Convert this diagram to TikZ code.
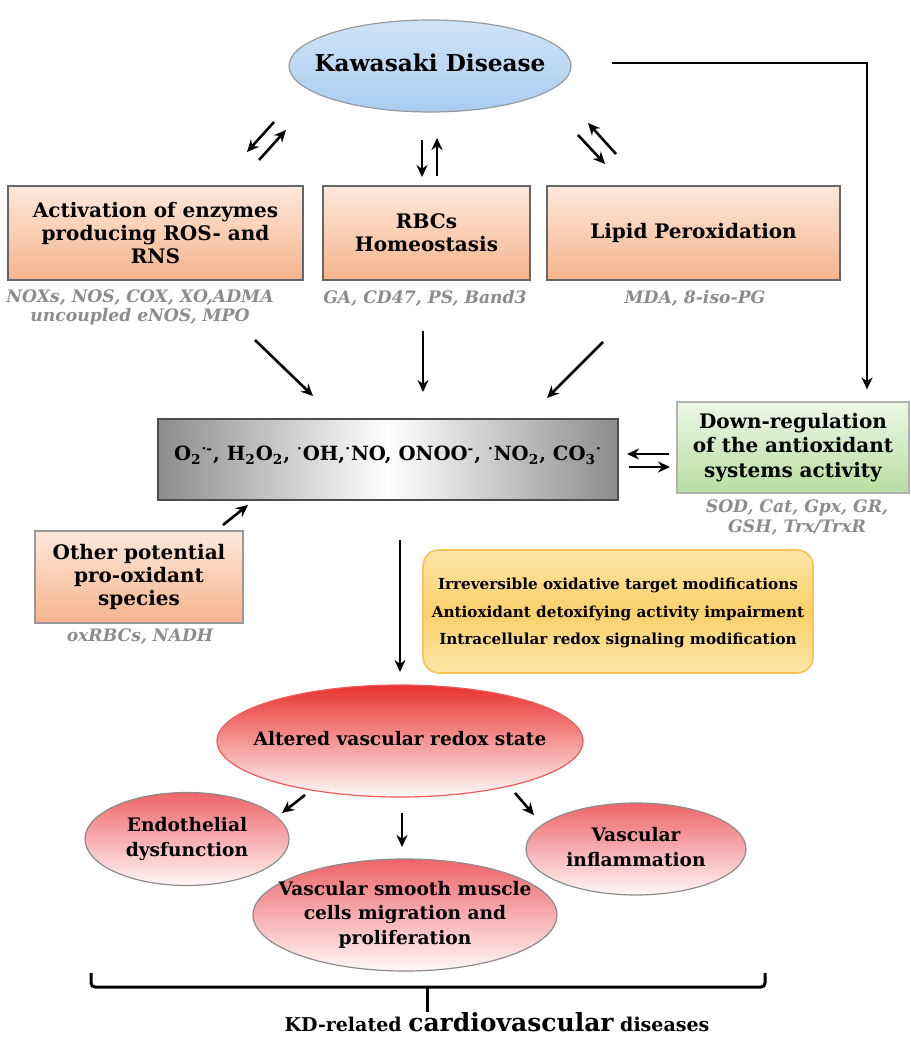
\documentclass[tikz,border=0pt]{standalone}
\usepackage{fontspec}
\setmainfont{DejaVu Serif}
\usetikzlibrary{shapes.geometric,arrows.meta}
\definecolor{kdblue}{HTML}{A9CDF0}
\definecolor{kdblueTop}{HTML}{CFE3F7}
\definecolor{peachTop}{HTML}{FDE8DB}
\definecolor{peachBot}{HTML}{F5B48C}
\definecolor{greenTop}{HTML}{EDF7E6}
\definecolor{greenBot}{HTML}{B7DEA0}
\definecolor{yelMid}{HTML}{FBD06A}
\definecolor{yelEdge}{HTML}{FDE6A8}
\definecolor{redTop}{HTML}{E8322E}
\definecolor{redSoft}{HTML}{EE6468}
\definecolor{subgray}{HTML}{8C8C8C}
% text of zero width, so the oval keeps its own size
\newcommand{\ovaltext}[1]{\makebox[0pt]{\begin{tabular}{@{}c@{}}#1\end{tabular}}}

\begin{document}
\begin{tikzpicture}[x=0.5pt,y=-0.5pt,
    font=\bfseries,
    arr/.style={line width=1.3pt,-{Stealth[length=6pt,width=5.5pt]}},
    peachbox/.style={draw=black!60,line width=0.6pt,top color=peachTop,bottom color=peachBot,
        align=center,inner sep=2pt,font=\bfseries\fontsize{10}{11.6}\selectfont},
    subtxt/.style={text=subgray,font=\bfseries\itshape\fontsize{8.6}{9.5}\selectfont},
    redoval/.style={ellipse,draw=black!45,line width=0.6pt,top color=redSoft,bottom color=red!3,
        inner sep=0pt,font=\bfseries\fontsize{9.3}{12.2}\selectfont}]
\useasboundingbox (0,0) rectangle (910,1037);

% top
\node[ellipse,draw=black!40,line width=0.6pt,top color=kdblueTop,bottom color=kdblue,
    minimum width=141pt,minimum height=46pt,inner sep=0pt,font=\bfseries\fontsize{11.6}{14}\selectfont]
    (kd) at (430,66) {\ovaltext{Kawasaki Disease}};

\node[peachbox,minimum width=147.5pt,minimum height=47pt] (act) at (155.5,233)
    {Activation of enzymes\\producing ROS- and\\RNS};
\node[peachbox,minimum width=103.5pt,minimum height=47pt] (rbc) at (426.5,233)
    {RBCs\\Homeostasis};
\node[peachbox,minimum width=146.5pt,minimum height=47pt] (lip) at (693.5,233)
    {Lipid Peroxidation};

\node[subtxt] (actsubA) at (140,298) {NOXs, NOS, COX, XO,ADMA};
\node[subtxt] (actsubB) at (140,317) {uncoupled eNOS, MPO};
\node[subtxt] (rbcsub) at (425,298) {GA, CD47, PS, Band3};
\node[subtxt] (lipsub) at (695,298) {MDA, 8-iso-PG};

% middle
\node[draw=black!70,line width=0.6pt,shading=axis,left color=black!45,right color=black!45,
    middle color=white,minimum width=230pt,minimum height=40.5pt,
    font=\bfseries\fontsize{9.8}{12}\selectfont] (ros) at (388,459.5)
    {\raisebox{6pt}{O\textsubscript{2}\textsuperscript{·-}, H\textsubscript{2}O\textsubscript{2}, \textsuperscript{·}OH,\textsuperscript{·}NO, ONOO\textsuperscript{-}, \textsuperscript{·}NO\textsubscript{2}, CO\textsubscript{3}\textsuperscript{·}}};

\node[draw=black!30,line width=0.6pt,top color=greenTop,bottom color=greenBot,align=center,
    minimum width=116pt,minimum height=45.5pt,inner sep=1pt,
    font=\bfseries\fontsize{10}{12.2}\selectfont] (down) at (793,447.5)
    {Down-regulation\\of the antioxidant\\systems activity};
\node[subtxt] (downsubA) at (797,508) {SOD, Cat, Gpx, GR,};
\node[subtxt] (downsubB) at (797,528) {GSH, Trx/TrxR};

\node[peachbox,draw=black!40,minimum width=104pt,minimum height=46pt] (other) at (139,577)
    {Other potential\\pro-oxidant\\species};
\node[subtxt] (othersub) at (140,637) {oxRBCs, NADH};

\node[draw=yelMid!80!orange,line width=0.8pt,rounded corners=8pt,shading=axis,
    top color=yelEdge,bottom color=yelEdge,middle color=yelMid,
    minimum width=195pt,minimum height=61.5pt,align=center,
    font=\bfseries\fontsize{7.6}{13.8}\selectfont] (eff) at (618,611.5)
    {\raisebox{5.5pt}{\begin{tabular}{@{}c@{}}Irreversible oxidative target modifications\\
    Antioxidant detoxifying activity impairment\\
    Intracellular redox signaling modification\end{tabular}}};

% bottom
\node[ellipse,draw=redTop!80,line width=0.6pt,top color=redTop,bottom color=red!2,
    minimum width=183pt,minimum height=56pt,inner sep=0pt,
    font=\bfseries\fontsize{9.3}{12}\selectfont] (alt) at (400,741)
    {\ovaltext{Altered vascular redox state}};
\node[redoval,minimum width=102pt,minimum height=46.5pt] (endo) at (187,839)
    {\ovaltext{Endothelial\\dysfunction}};
\node[redoval,minimum width=110pt,minimum height=46pt] (infl) at (636,849)
    {\ovaltext{Vascular\\inflammation}};
\node[redoval,minimum width=152pt,minimum height=56pt] (vsmc) at (405,915)
    {\ovaltext{Vascular smooth muscle\\cells migration and\\proliferation}};

\node[anchor=base,font=\bfseries\fontsize{9.5}{11}\selectfont] (kdtxt) at (497,1031)
    {KD-related {\fontsize{12.5}{14}\selectfont cardiovascular} diseases};

% free arrows
\foreach \s/\t [count=\k] in {{274,122}/{247,152},{259,160}/{286,130},{422,140}/{422,177},
    {437,176}/{437,138},{578,135}/{605,164},{616,154}/{588,123},{255,340}/{313,396},
    {423,331}/{423,392},{603,342}/{547,398},{669,454}/{627,454},{629,467}/{670,467},
    {223,525}/{248,505},{400,540}/{400,672},{305,795}/{282,813},{402,813}/{402,847},
    {515,793}/{534,815}}{
    \coordinate (s\k) at (\s);
    \coordinate (t\k) at (\t);
    \draw[arr] (s\k) -- (t\k);
}

\draw[arr] ([xshift=20pt,yshift=1.5pt]kd.east) -| ([xshift=37pt,yshift=6pt]down.north);

% brace
\coordinate (brL) at (91,973);
\coordinate (brR) at (765,973);
\coordinate (brM) at (427,987);
\draw[line width=1.5pt,rounded corners=2pt] (brL) -- (91,987) -- (765,987) -- (brR);
\draw[line width=1.5pt] (brM) -- (427,1012);
\end{tikzpicture}
\end{document}
